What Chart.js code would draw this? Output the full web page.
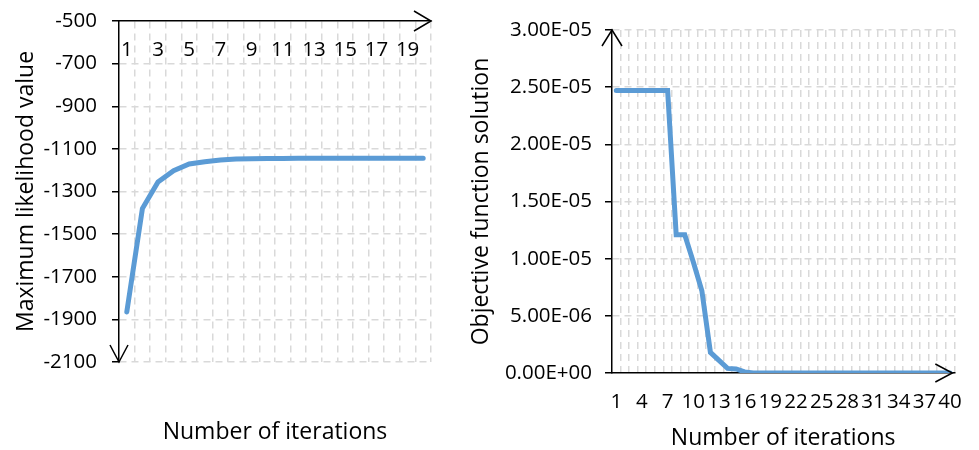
<!DOCTYPE html>
<html>
<head>
<meta charset="utf-8">
<script src="https://cdn.jsdelivr.net/npm/chart.js@4.4.0/dist/chart.umd.min.js"></script>
<style>
  body { margin: 0; background: #fff; }
  #wrap { position: relative; width: 979px; height: 450px; overflow: hidden; }
  #likeCanvas { position: absolute; left: 0; top: 0; }
  #objCanvas { position: absolute; left: 450px; top: 0; }
</style>
</head>
<body>
<div id="wrap">
  <canvas id="likeCanvas" width="450" height="450"></canvas>
  <canvas id="objCanvas" width="529" height="450"></canvas>
</div>
<script>
// ---------- data: left chart (maximum likelihood) ----------
const likeIters = [1, 2, 3, 4, 5, 6, 7, 8, 9, 10, 11, 12, 13, 14, 15, 16, 17, 18, 19, 20];
const likeValues = [-1865, -1380, -1255, -1202, -1171, -1160, -1152, -1148, -1146, -1145,
  -1145, -1144, -1144, -1144, -1144, -1144, -1144, -1144, -1144, -1144];
const likeTickLabels = [1, 3, 5, 7, 9, 11, 13, 15, 17, 19];
const likeYMin = -2100;
const likeYMax = -500;
const likeYStep = 200;

// ---------- data: right chart (objective function) ----------
const objIters = [1, 2, 3, 4, 5, 6, 7, 8, 9, 10, 11, 12, 13, 14, 15, 16, 17, 18, 19, 20,
  21, 22, 23, 24, 25, 26, 27, 28, 29, 30, 31, 32, 33, 34, 35, 36, 37, 38, 39, 40];
const objValues = [2.47e-5, 2.47e-5, 2.47e-5, 2.47e-5, 2.47e-5, 2.47e-5, 2.47e-5,
  1.21e-5, 1.21e-5, 0.97e-5, 0.72e-5, 0.18e-5, 0.11e-5, 0.04e-5, 0.035e-5, 0.01e-5,
  0, 0, 0, 0, 0, 0, 0, 0, 0, 0, 0, 0, 0, 0, 0, 0, 0, 0, 0, 0, 0, 0, 0, 0];
const objTickLabels = [1, 4, 7, 10, 13, 16, 19, 22, 25, 28, 31, 34, 37, 40];
const objYMin = 0;
const objYMax = 3e-5;
const objYStep = 5e-6;

const FONT = "'Open Sans', sans-serif";
const LINE_BLUE = "#5b9bd5";
const GRID_GREY = "#d9d9d9";
const CLEAR = "rgba(0,0,0,0)";

// Excel style 0.00E+00
function fmtSci(v) {
  const [mant, exp] = Number(v).toExponential(2).split("e");
  const n = parseInt(exp, 10);
  return mant + "E" + (n < 0 ? "-" : "+") + String(Math.abs(n)).padStart(2, "0");
}

function drawHead(ctx, x, y, dx, dy, len, half) {
  // dx,dy: unit direction the arrow points to
  const bx = x - dx * len, by = y - dy * len;
  ctx.beginPath();
  ctx.moveTo(bx - dy * half, by + dx * half);
  ctx.lineTo(x, y);
  ctx.lineTo(bx + dy * half, by - dx * half);
  ctx.stroke();
}

// arrow heads on the axis lines
const axisArrows = {
  id: "axisArrows",
  afterDraw(chart, args, opts) {
    const { ctx, chartArea: a } = chart;
    ctx.save();
    ctx.strokeStyle = "#000";
    ctx.lineWidth = 1.5;
    (opts.heads || []).forEach((h) => {
      const x = h.at[0] === "left" ? a.left : a.right + (h.dx0 || 0);
      const y = h.at[1] === "top" ? a.top : a.bottom;
      drawHead(ctx, x, y, h.dir[0], h.dir[1], h.len, h.half);
    });
    ctx.restore();
  },
};

const tickFont = { family: FONT, size: 20.5 };
const titleFont = { family: FONT, size: 23 };

/* --- Left: Maximum likelihood value --- */
new Chart(document.getElementById("likeCanvas"), {
  type: "line",
  data: {
    labels: likeIters,
    datasets: [{
      data: likeValues,
      xAxisID: "x",
      yAxisID: "y",
      borderColor: LINE_BLUE,
      borderWidth: 5,
      borderCapStyle: "round",
      pointRadius: 0,
      tension: 0,
      fill: false,
    }],
  },
  options: {
    responsive: false,
    animation: false,
    layout: { padding: { left: 0, right: 19, top: 0, bottom: 0 } },
    plugins: {
      legend: { display: false },
      tooltip: { enabled: false },
      axisArrows: {
        heads: [
          { at: ["right", "top"], dir: [1, 0], len: 17, half: 10 },
          { at: ["left", "bottom"], dir: [0, 1], len: 17, half: 9 },
        ],
      },
    },
    scales: {
      x: {
        type: "category",
        position: "top",
        offset: true,
        afterFit(scale) { scale.height = 21; },
        grid: {
          offset: true,
          drawTicks: false,
          lineWidth: 1.5,
          color: (c) => (c.index === 0 ? CLEAR : GRID_GREY),
        },
        border: { display: true, color: "#000", width: 1.5, dash: [7, 5] },
        ticks: {
          autoSkip: false,
          maxRotation: 0,
          mirror: true, // labels sit under the top axis line
          padding: 17,
          color: "#000",
          font: tickFont,
          callback(value) {
            const lab = this.getLabelForValue(value);
            return likeTickLabels.includes(lab) ? String(lab) : "";
          },
        },
      },
      x2: {
        type: "category",
        position: "bottom",
        afterFit(scale) { scale.height = 88; },
        grid: { display: false },
        border: { display: false },
        ticks: { display: false },
        title: {
          display: true,
          text: "Number of iterations",
          color: "#000",
          font: titleFont,
          padding: { top: 0, bottom: 4 },
        },
      },
      y: {
        min: likeYMin,
        max: likeYMax,
        afterFit(scale) {
          scale.width = 119;
          scale.paddingTop = 0; // top label may overhang the 21px top band
        },
        grid: {
          lineWidth: 1.5,
          color: (c) => (c.tick && c.tick.value === likeYMax ? CLEAR : GRID_GREY),
          tickColor: "#000",
          tickWidth: 1.5,
          tickLength: 7,
          tickBorderDash: [],
        },
        border: { display: true, color: "#000", width: 1.5, dash: [7, 5] },
        ticks: {
          stepSize: likeYStep,
          padding: 15,
          color: "#000",
          font: tickFont,
          callback: (v) => String(v),
        },
        title: {
          display: true,
          text: "Maximum likelihood value",
          color: "#000",
          font: titleFont,
          padding: { top: 13, bottom: 0 },
        },
      },
    },
  },
  plugins: [axisArrows],
});

/* --- Right: Objective function solution --- */
new Chart(document.getElementById("objCanvas"), {
  type: "line",
  data: {
    labels: objIters,
    datasets: [{
      data: objValues,
      borderColor: LINE_BLUE,
      borderWidth: 5,
      borderCapStyle: "round",
      pointRadius: 0,
      tension: 0,
      fill: false,
    }],
  },
  options: {
    responsive: false,
    animation: false,
    layout: { padding: { left: 0, right: 17, top: 30, bottom: 0 } },
    plugins: {
      legend: { display: false },
      tooltip: { enabled: false },
      axisArrows: {
        heads: [
          { at: ["left", "top"], dir: [0, -1], len: 16, half: 10 },
          { at: ["right", "bottom"], dir: [1, 0], len: 17, half: 9, dx0: -2 },
        ],
      },
    },
    scales: {
      x: {
        type: "category",
        position: "bottom",
        offset: true,
        afterFit(scale) { scale.height = 77; },
        grid: {
          offset: true,
          drawTicks: false,
          lineWidth: 1.5,
          color: (c) => (c.index === 0 ? CLEAR : GRID_GREY),
        },
        border: { display: true, color: "#000", width: 1.5, dash: [7, 5] },
        ticks: {
          autoSkip: false,
          maxRotation: 0,
          padding: 17,
          color: "#000",
          font: tickFont,
          callback(value) {
            const lab = this.getLabelForValue(value);
            return objTickLabels.includes(lab) ? String(lab) : "";
          },
        },
        title: {
          display: true,
          text: "Number of iterations",
          color: "#000",
          font: titleFont,
          padding: { top: 0, bottom: -2 },
        },
      },
      y: {
        min: objYMin,
        max: objYMax,
        afterFit(scale) { scale.width = 162; },
        grid: {
          lineWidth: 1.5,
          color: (c) => (c.tick && c.tick.value === objYMin ? CLEAR : GRID_GREY),
          tickColor: "#000",
          tickWidth: 1.5,
          tickLength: 7,
          tickBorderDash: [],
        },
        border: { display: true, color: "#000", width: 1.5, dash: [7, 5] },
        ticks: {
          stepSize: objYStep,
          padding: 13,
          color: "#000",
          font: tickFont,
          callback: (v) => fmtSci(v),
        },
        title: {
          display: true,
          text: "Objective function solution",
          color: "#000",
          font: titleFont,
          padding: { top: 18, bottom: 0 },
        },
      },
    },
  },
  plugins: [axisArrows],
});
</script>
</body>
</html>
